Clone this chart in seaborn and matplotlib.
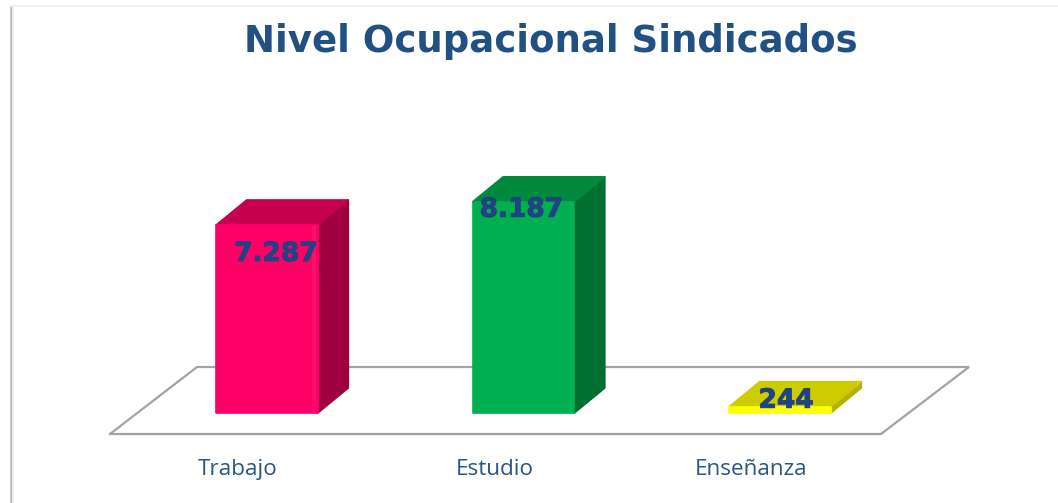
import matplotlib
matplotlib.use("Agg")
import matplotlib.pyplot as plt
import matplotlib.patheffects as pe
from matplotlib.lines import Line2D
from matplotlib.patches import Polygon
from matplotlib.transforms import ScaledTranslation
import pandas as pd
import seaborn as sns

categories = ["Trabajo", "Estudio", "Enseñanza"]
values = [7287, 8187, 244]
value_labels = ["7.287", "8.187", "244"]
title = "Nivel Ocupacional Sindicados"

front_colors = ["#FF0066", "#00B050", "#FFFF00"]
side_colors = ["#A00040", "#006F30", "#B4B400"]
top_colors = ["#C6004F", "#008A3E", "#CCCC00"]
edge_light = ["#FF0D6E", "#05B555", "#FFFF20"]
label_shift_px = [(9, -29), (-2, -8), (6, 6)]

W, H = 1058, 503
TEXT = "#1F4383"
sns.set_theme(style="white")
plt.rcParams["font.family"] = ["DejaVu Sans"]
fig = plt.figure(figsize=(W / 100, H / 100), dpi=100, facecolor="white")

# frame of the panel
fig.add_artist(Line2D([10.5 / W, 10.5 / W], [0, 1 - 6 / H], color="#B8B8B8", lw=1.8))
fig.add_artist(Line2D([13 / W, 13 / W], [0, 1 - 6 / H], color="#EDEDED", lw=1.4))
fig.add_artist(Line2D([10 / W, 1], [1 - 5.5 / H, 1 - 5.5 / H], color="#F2F2F2", lw=1.5))

# axes: bottom spine is the front edge of the floor
L, R, B, T = 110, 881, 434, 100
ax = fig.add_axes([L / W, 1 - B / H, (R - L) / W, (B - T) / H])
df = pd.DataFrame({"cat": categories, "val": values})
sns.barplot(data=df, x="cat", y="val", hue="cat", palette=front_colors, legend=False,
            width=0.396, saturation=1, ax=ax, zorder=3)
px_x = 256.5
px_y = 0.0258
ax.set_xlim((L - 267) / px_x, (R - 267) / px_x)
ax.set_ylim(-(B - 413) / px_y, (413 - T) / px_y)
ax.patch.set_alpha(0)
ax.set_xlabel("")
ax.set_ylabel("")
ax.set_yticks([])
ax.tick_params(axis="x", length=0, pad=18, labelsize=16.2, labelcolor="#2A5585")
shift = ScaledTranslation(-29 / 100, 0, fig.dpi_scale_trans)
for t in ax.get_xticklabels():
    t.set_fontfamily("Open Sans")
    t.set_transform(t.get_transform() + shift)
for s in ["top", "left", "right"]:
    ax.spines[s].set_visible(False)
ax.spines["bottom"].set_color("#A3A3A3")
ax.spines["bottom"].set_linewidth(1.6)

# floor side/back edges
x0, x1 = ax.get_xlim()
y0 = ax.get_ylim()[0]
fdx_l, fdx_r, fdy = 87 / px_x, 88 / px_x, 67 / px_y
ax.plot([x0, x0 + fdx_l, x1 + fdx_r, x1], [y0, y0 + fdy, y0 + fdy, y0],
        color="#A3A3A3", lw=1.6, clip_on=False, zorder=1, solid_joinstyle="miter")

# depth faces built from the bars
ddx, ddy = 30.5 / px_x, 25 / px_y
for i, bar in enumerate(list(ax.patches)):
    a, b = bar.get_x(), bar.get_x() + bar.get_width()
    h = bar.get_height()
    bar.set_edgecolor(front_colors[i])
    bar.set_linewidth(1.2)
    bar.set_joinstyle("round")
    ax.add_patch(Polygon([(b, 0), (b + ddx, ddy), (b + ddx, h + ddy), (b, h)],
                         fc=side_colors[i], ec=side_colors[i], lw=1.2, joinstyle="round",
                         zorder=2.5, clip_on=False))
    ax.add_patch(Polygon([(a, h), (a + ddx, h + ddy), (b + ddx, h + ddy), (b, h)],
                         fc=top_colors[i], ec=top_colors[i], lw=1.2, joinstyle="round",
                         zorder=2.6, clip_on=False))
    ax.plot([b - 0.014, b - 0.014], [0, h], color=edge_light[i], lw=2.6, zorder=3.5,
            solid_capstyle="butt")
    dx, dy = label_shift_px[i]
    ax.annotate(value_labels[i], (i, h), xytext=(dx * 0.72, dy * 0.72),
                textcoords="offset points", ha="center", va="center",
                fontsize=19, fontweight="bold", color=TEXT, zorder=5, annotation_clip=False,
                path_effects=[pe.withStroke(linewidth=0.7, foreground=TEXT)])

fig.text(551 / W, 1 - 41.5 / H, title, ha="center", va="center", fontsize=26.7,
         fontweight="bold", color="#215082")
fig.savefig("out.png", dpi=100)
